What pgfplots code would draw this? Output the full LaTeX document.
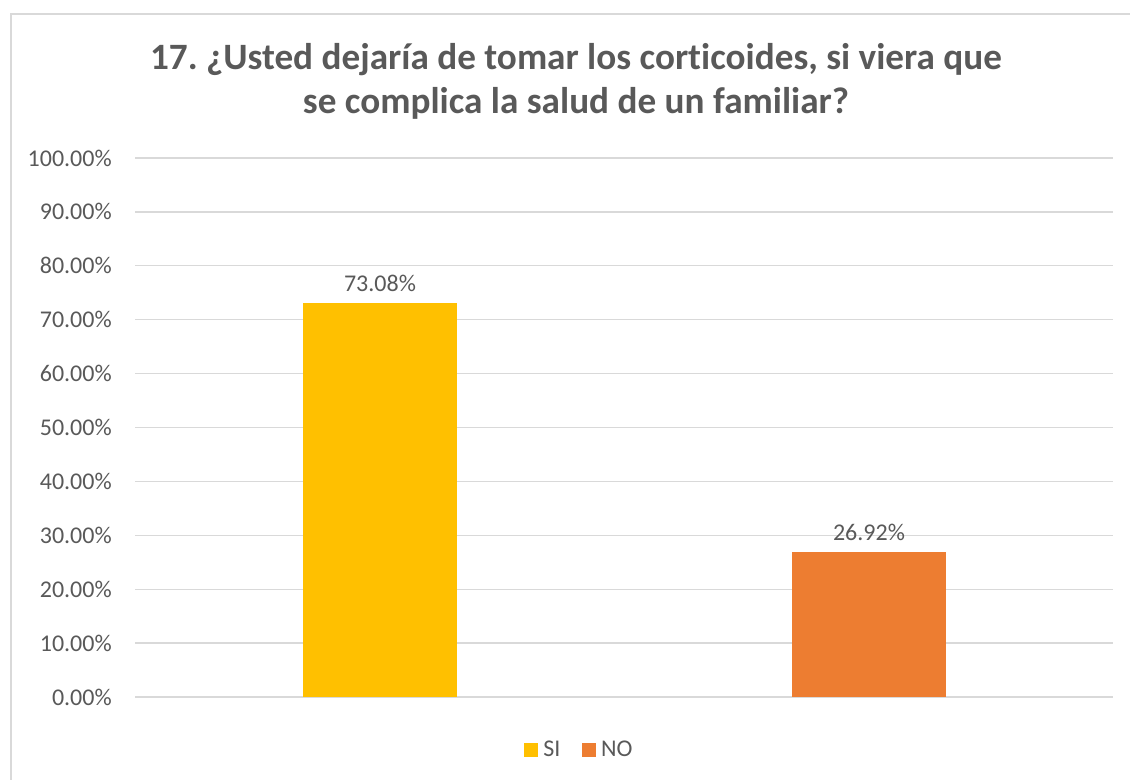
\documentclass[border=0pt]{standalone}
\usepackage{pgfplots}
\pgfplotsset{compat=1.18}
\usepackage{fontspec}
\setmainfont{Carlito}[Ligatures=NoCommon]
\frenchspacing
\definecolor{txt}{HTML}{595959}
\definecolor{grd}{HTML}{D9D9D9}
\definecolor{siC}{HTML}{FFC000}
\definecolor{noC}{HTML}{ED7D31}
\begin{document}
\begin{tikzpicture}
\useasboundingbox (-101.6pt,-62.25pt) rectangle (745.9pt,522.75pt);
\draw[grd, line width=1pt] (-93.4pt,-70pt) |- (760pt,512.25pt);
\begin{axis}[
  at={(0pt,0pt)}, anchor=south west,
  scale only axis, width=733.5pt, height=404.25pt,
  xmin=-0.5, xmax=1.5, ymin=0, ymax=100,
  ybar, bar width=115.5pt,
  axis line style={draw=none},
  xtick=\empty,
  ytick={0,10,...,100},
  major tick length=0pt,
  ymajorgrids, grid style={grd, line width=1pt},
  /pgf/number format/assume math mode=true,
  yticklabel={\pgfmathprintnumber[fixed,fixed zerofill,precision=2]{\tick}\%},
  yticklabel style={font=\fontsize{18}{21}\selectfont, text=txt, inner sep=0pt, anchor=east},
  yticklabel shift=17.6pt,
  nodes near coords={\pgfmathprintnumber[fixed,fixed zerofill,precision=2]{\pgfplotspointmeta}\%},
  every node near coord/.append style={font=\fontsize{18}{21}\selectfont, text=txt, yshift=5pt},
  legend columns=2,
  legend style={at={(0.4555,-0.0983)}, anchor=center, draw=none, fill=none,
    font=\fontsize{18}{21}\selectfont, text=txt,
    /tikz/every even column/.append style={column sep=12pt},
    /tikz/every odd column/.append style={column sep=0pt},
    nodes={inner xsep=4pt}},
  legend image code/.code={\fill[#1] (0pt,-5.25pt) rectangle (10.5pt,5.25pt);},
  clip=false,
]
\addplot[fill=siC, draw=none, bar shift=0pt] coordinates {(0,73.08)};
\addlegendentry{SI}
\addplot[fill=noC, draw=none, bar shift=0pt] coordinates {(1,26.92)};
\addlegendentry{NO}
\end{axis}
\node[font=\bfseries\fontsize{27.9}{33}\selectfont, text=txt, align=center, anchor=base] at (330.4pt,470.25pt) {17. ¿Usted dejaría de tomar los corticoides, si viera que};
\node[font=\bfseries\fontsize{27.9}{33}\selectfont, text=txt, align=center, anchor=base] at (330.4pt,437.9pt) {se complica la salud de un familiar?};
\end{tikzpicture}
\end{document}
